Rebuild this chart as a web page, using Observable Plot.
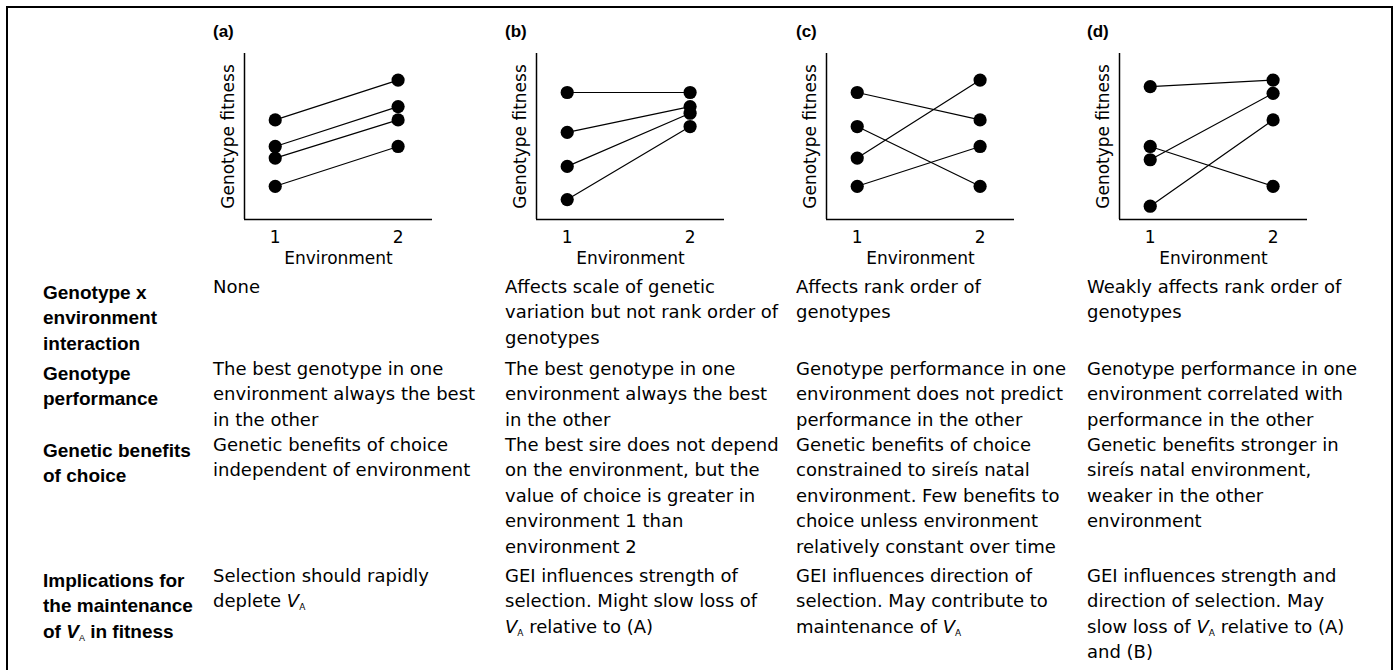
<!DOCTYPE html>
<html><head><meta charset="utf-8">
<script src="https://cdn.jsdelivr.net/npm/d3@7"></script>
<script src="https://cdn.jsdelivr.net/npm/@observablehq/plot@0.6"></script>
<style>
body{margin:0;background:#fff;}
#root{position:relative;width:1395px;height:670px;overflow:hidden;background:#fff;color:#000;}
#frame{position:absolute;left:6px;top:6px;width:1383px;height:720px;border:2px solid #000;}
.pl{position:absolute;}
.lab{position:absolute;font-family:"Liberation Sans",Arial,sans-serif;font-weight:bold;font-size:17px;line-height:20px;}
.hd{position:absolute;left:43px;font-family:"Liberation Sans",Arial,sans-serif;font-weight:bold;font-size:19px;line-height:25.6px;white-space:nowrap;}
.cell{position:absolute;font-family:"DejaVu Sans",sans-serif;font-size:18px;line-height:25.6px;white-space:nowrap;}
sub{font-size:9px;line-height:0;vertical-align:baseline;position:relative;top:3px;font-style:normal;font-weight:normal;}
</style></head>
<body>
<div id="root"><div id="frame"></div></div>
<script>
// ---------- data ----------
const genotypes = ["G1", "G2", "G3", "G4"];
const environments = [1, 2];
const panelNames = ["(a)", "(b)", "(c)", "(d)"];
const fitA1 = [6.0, 4.4, 3.7, 2.0];
const fitA2 = [8.4, 6.8, 6.0, 4.4];
const fitB1 = [7.65, 5.25, 3.2, 1.2];
const fitB2 = [7.65, 6.8, 6.4, 5.6];
const fitC1 = [7.65, 5.6, 3.7, 2.0];
const fitC2 = [6.0, 2.0, 8.4, 4.4];
const fitD1 = [8.0, 4.4, 3.6, 0.8];
const fitD2 = [8.4, 2.0, 7.6, 6.0];
const yAxisLabel = "Genotype fitness";
const xAxisLabel = "Environment";

const rowHeaders = [
  ["Genotype x", "environment", "interaction"],
  ["Genotype", "performance"],
  ["Genetic benefits", "of choice"],
  ["Implications for", "the maintenance", "of V_A in fitness"]
];
const colA = [
  ["None"],
  ["The best genotype in one", "environment always the best", "in the other"],
  ["Genetic benefits of choice", "independent of environment"],
  ["Selection should rapidly", "deplete V_A"]
];
const colB = [
  ["Affects scale of genetic", "variation but not rank order of", "genotypes"],
  ["The best genotype in one", "environment always the best", "in the other"],
  ["The best sire does not depend", "on the environment, but the", "value of choice is greater in", "environment 1 than", "environment 2"],
  ["GEI influences strength of", "selection. Might slow loss of", "V_A relative to (A)"]
];
const colC = [
  ["Affects rank order of", "genotypes"],
  ["Genotype performance in one", "environment does not predict", "performance in the other"],
  ["Genetic benefits of choice", "constrained to sireís natal", "environment. Few benefits to", "choice unless environment", "relatively constant over time"],
  ["GEI influences direction of", "selection. May contribute to", "maintenance of V_A"]
];
const colD = [
  ["Weakly affects rank order of", "genotypes"],
  ["Genotype performance in one", "environment correlated with", "performance in the other"],
  ["Genetic benefits stronger in", "sireís natal environment,", "weaker in the other", "environment"],
  ["GEI influences strength and", "direction of selection. May", "slow loss of V_A relative to (A)", "and (B)"]
];

// ---------- layout ----------
const panelAxisLeft = [244, 536, 826, 1119];
const colLeft = [213, 505, 796, 1087];
const rowTopCell = [273.5, 355.5, 431.5, 562.5];
const rowTopHeader = [279.5, 360.5, 437.5, 567.5];

const root = document.getElementById("root");

function panel(v1, v2) {
  const data = genotypes.flatMap((g, i) => [
    {genotype: g, env: environments[0], fitness: v1[i]},
    {genotype: g, env: environments[1], fitness: v2[i]}
  ]);
  return Plot.plot({
    width: 240, height: 234,
    marginLeft: 40, marginRight: 12, marginTop: 13, marginBottom: 55,
    x: {domain: [0.75, 2.28]},
    y: {domain: [0, 10], axis: null},
    style: {fontFamily: "DejaVu Sans", fontSize: "17px", background: "transparent", color: "#000", overflow: "visible"},
    marks: [
      Plot.ruleX([0.75], {stroke: "#000", strokeWidth: 1.5}),
      Plot.ruleY([0], {stroke: "#000", strokeWidth: 1.5}),
      Plot.line(data, {x: "env", y: "fitness", z: "genotype", stroke: "#000", strokeWidth: 1.2}),
      Plot.dot(data, {x: "env", y: "fitness", r: 6.6, fill: "#000"}),
      Plot.axisX({ticks: environments, tickFormat: d => String(d), tickSize: 0, tickPadding: 11, label: null, fontSize: 17}),
      Plot.text([yAxisLabel], {text: d => d, frameAnchor: "left", textAnchor: "middle", lineAnchor: "middle", rotate: -90, dx: -16, fontSize: 17, fill: "#000"}),
      Plot.text([xAxisLabel], {text: d => d, frameAnchor: "bottom", textAnchor: "middle", lineAnchor: "middle", dy: 39, fontSize: 17, fill: "#000"})
    ]
  });
}

const series = [[fitA1, fitA2], [fitB1, fitB2], [fitC1, fitC2], [fitD1, fitD2]];
series.forEach(([v1, v2], i) => {
  const wrap = document.createElement("div");
  wrap.className = "pl";
  wrap.style.left = (panelAxisLeft[i] - 40) + "px";
  wrap.style.top = "40px";
  wrap.appendChild(panel(v1, v2));
  root.appendChild(wrap);
  const lab = document.createElement("div");
  lab.className = "lab";
  lab.style.left = colLeft[i] + "px";
  lab.style.top = "22px";
  lab.textContent = panelNames[i];
  root.appendChild(lab);
});

function fmt(line) {
  return line.replace("V_A", "<i>V</i><sub>A</sub>");
}
rowHeaders.forEach((lines, r) => {
  const d = document.createElement("div");
  d.className = "hd";
  d.style.top = rowTopHeader[r] + "px";
  d.innerHTML = lines.map(fmt).join("<br>");
  root.appendChild(d);
});
[colA, colB, colC, colD].forEach((col, c) => {
  col.forEach((lines, r) => {
    const d = document.createElement("div");
    d.className = "cell";
    d.style.left = colLeft[c] + "px";
    d.style.top = rowTopCell[r] + "px";
    d.innerHTML = lines.map(fmt).join("<br>");
    root.appendChild(d);
  });
});
</script>
</body></html>
